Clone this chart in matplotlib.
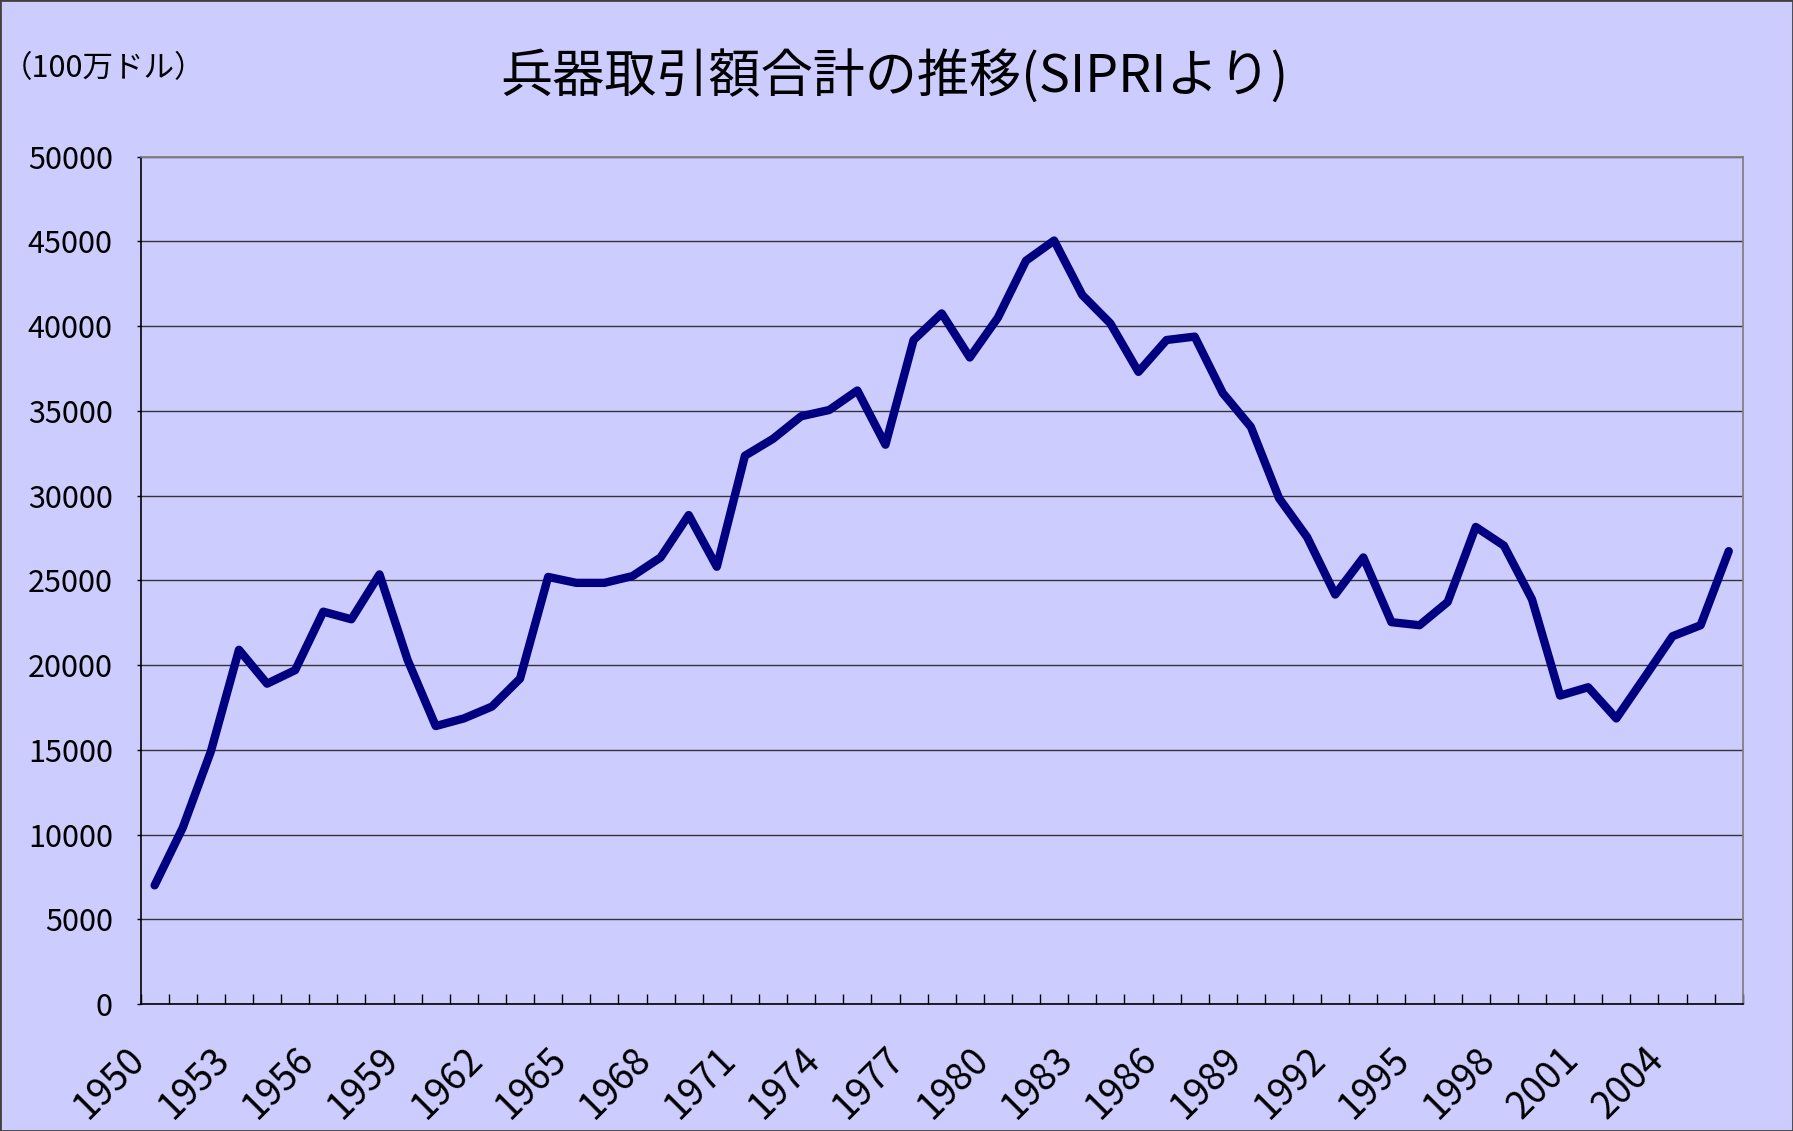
import matplotlib
matplotlib.use('Agg')
import matplotlib.pyplot as plt
import matplotlib.transforms as mtransforms
from matplotlib.patches import Rectangle

plt.rcParams['font.family'] = ['Noto Sans CJK JP', 'DejaVu Sans']

years = list(range(1950, 2007))
values = [7000, 10400, 14900, 20900, 18900, 19700, 23150, 22700, 25350, 20300,
          16400, 16850, 17550, 19200, 25200, 24850, 24850, 25250, 26350, 28850,
          25800, 32350, 33350, 34680, 35050, 36200, 33000, 39180, 40750, 38150,
          40500, 43860, 45050, 41840, 40160, 37300, 39180, 39380, 36050, 34050,
          29850, 27550, 24160, 26350, 22530, 22350, 23720, 28150, 27050, 23880,
          18200, 18690, 16850, 19260, 21700, 22350, 26720]
y_ticks = list(range(0, 50001, 5000))
label_step = 3
title = '兵器取引額合計の推移(SIPRIより)'
unit_label = '（100万ドル）'

BG = '#CCCCFF'
fig = plt.figure(figsize=(17.93, 11.31), dpi=100, facecolor=BG)
ax = fig.add_axes([0.0784, 0.1123, 0.972 - 0.0784, 0.8615 - 0.1123])
ax.set_facecolor(BG)

xs = list(range(len(years)))
ax.plot(xs, values, color='#000080', lw=6, solid_joinstyle='round',
        solid_capstyle='round', zorder=3)

ax.set_xlim(-0.5, len(years) - 0.5)
ax.set_ylim(0, 50000)
ax.set_yticks(y_ticks)
ax.set_yticklabels([str(v) for v in y_ticks])
ax.yaxis.grid(True, color='#333333', lw=1)
ax.set_axisbelow(True)

ax.set_xticks(xs[::label_step])
ax.set_xticklabels([str(y) for y in years[::label_step]], rotation=45,
                   ha='right', va='center', rotation_mode='anchor')
ax.set_xticks([i - 0.5 for i in range(len(years) + 1)], minor=True)
ax.tick_params(axis='x', which='major', length=0, pad=36, labelsize=27)
ax.tick_params(axis='x', which='minor', direction='in', length=7, width=1, color='black')
ax.tick_params(axis='y', which='major', direction='out', length=3, width=1,
               pad=17, labelsize=22)
offset = mtransforms.ScaledTranslation(-0.15, 0, fig.dpi_scale_trans)
for lbl in ax.get_xticklabels():
    lbl.set_transform(lbl.get_transform() + offset)

for side in ['left', 'bottom']:
    ax.spines[side].set_color('black')
    ax.spines[side].set_linewidth(1.2)
for side in ['top', 'right']:
    ax.spines[side].set_color('#808080')
    ax.spines[side].set_linewidth(1.3)

fig.text(0.499, 0.932, title, ha='center', va='center', fontsize=37.5)
fig.text(2 / 1793, 0.939, unit_label, ha='left', va='center', fontsize=22)

fig.add_artist(Rectangle((0, 0), 1, 1, transform=fig.transFigure, fill=False,
                         edgecolor='#404040', lw=2))

fig.savefig('out.png', dpi=100, facecolor=fig.get_facecolor())
